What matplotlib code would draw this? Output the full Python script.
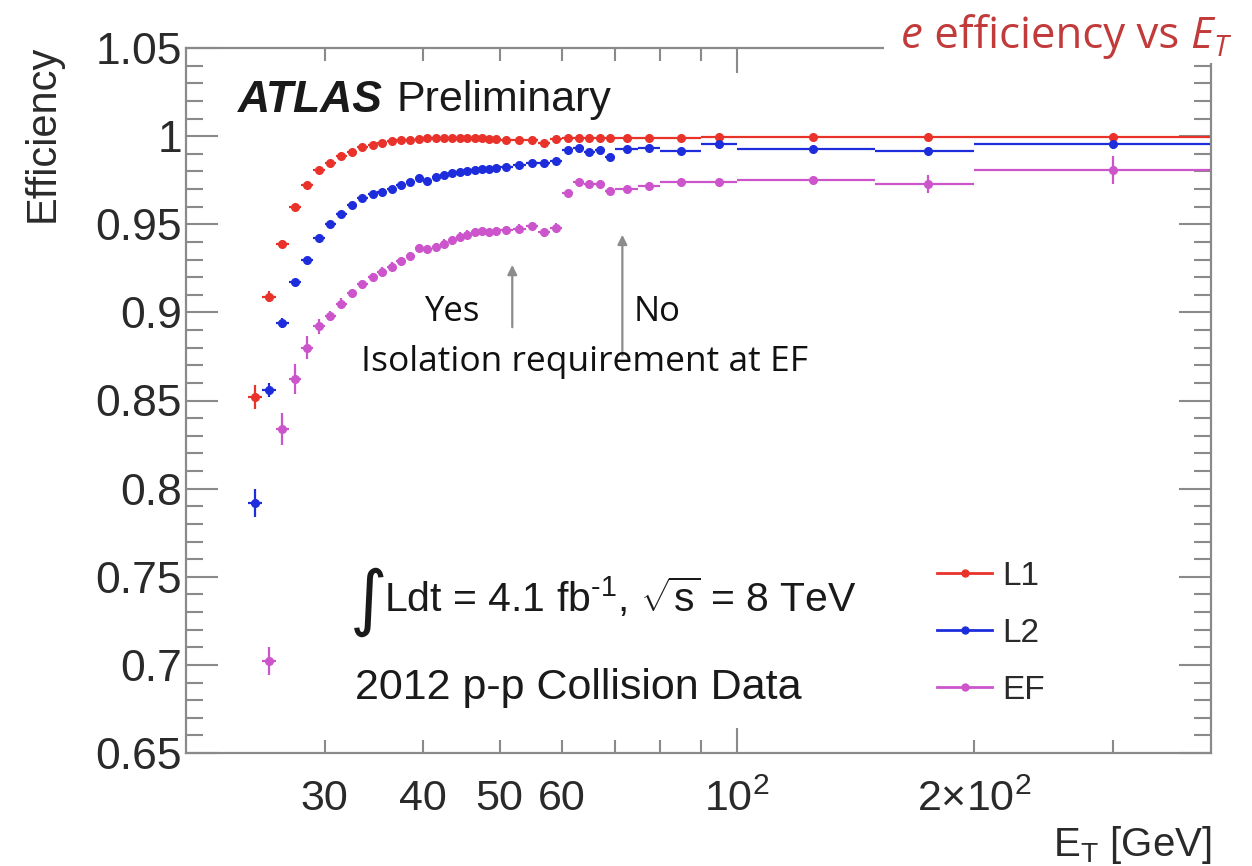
import matplotlib
matplotlib.use("Agg")
import matplotlib.pyplot as plt
from matplotlib.lines import Line2D
from matplotlib.patches import Rectangle
from matplotlib.ticker import FixedLocator, FixedFormatter, MultipleLocator, FormatStrFormatter
import numpy as np

plt.rcParams['font.family'] = ['Liberation Sans', 'DejaVu Sans']
plt.rcParams['mathtext.fontset'] = 'custom'
plt.rcParams['mathtext.rm'] = 'Liberation Sans'
plt.rcParams['mathtext.it'] = 'Liberation Sans:italic'
plt.rcParams['mathtext.bf'] = 'Liberation Sans:bold'

nan = float('nan')

# E_T bin edges [GeV]
bin_edges = [24, 25, 26, 27, 28, 29, 30, 31, 32, 33, 34, 35, 36, 37, 38, 39, 40,
             41, 42, 43, 44, 45, 46, 47, 48, 49, 50,
             52, 54, 56, 58, 60, 62, 64, 66, 68, 70,
             75, 80, 90, 100, 150, 200, 400]

# trigger efficiencies per bin
eff_l1 = [0.852, 0.909, 0.939, 0.960, 0.972, 0.981, 0.985, 0.989, 0.991, 0.994,
          0.995, 0.996, 0.997, 0.998, 0.998, 0.9985, 0.999, 0.999, 0.999, 0.999,
          0.999, 0.999, 0.9988, 0.9988, 0.9985, 0.9985,
          0.998, 0.998, 0.998, 0.9963, 0.9985, 0.999, 0.999, 0.999, 0.999, 0.999,
          0.999, 0.999, 0.999, 0.9993, 0.9995, 0.9995, 0.9995]
err_l1 = [0.007, 0.003, 0.002, 0.0015, 0.001, 0.001, 0.001, 0.001, 0.001, 0.001,
          0.001, 0.001, 0.001, 0.001, 0.001, 0.001, 0.001, 0.001, 0.001, 0.001,
          0.001, 0.001, 0.001, 0.001, 0.001, 0.001,
          0.001, 0.001, 0.001, 0.001, 0.001, 0.001, 0.001, 0.001, 0.001, 0.001,
          0.001, 0.001, 0.001, 0.001, 0.001, 0.001, 0.001]

eff_l2 = [0.792, 0.856, 0.894, 0.917, 0.930, 0.942, 0.950, 0.956, 0.961, 0.965,
          0.967, 0.9685, 0.970, 0.9725, 0.974, 0.976, 0.9745, 0.977, 0.978, 0.979,
          0.9795, 0.980, 0.981, 0.9812, 0.9815, 0.982,
          0.9825, 0.9835, 0.9845, 0.985, 0.986, 0.992, 0.993, 0.991, 0.992, 0.988,
          0.9925, 0.9935, 0.9917, 0.9955, 0.9925, 0.9915, 0.9955]
err_l2 = [0.008, 0.004, 0.003, 0.002, 0.0015, 0.0015, 0.0015, 0.0015, 0.0015, 0.0015,
          0.0015, 0.0015, 0.0015, 0.0015, 0.0015, 0.0015, 0.0015, 0.0015, 0.0015, 0.0015,
          0.0015, 0.0015, 0.0015, 0.0015, 0.0015, 0.0015,
          0.0015, 0.0015, 0.0015, 0.0015, 0.0015, 0.0015, 0.0015, 0.0015, 0.0015, 0.0015,
          0.0015, 0.0015, 0.0015, 0.0015, 0.002, 0.002, 0.003]

eff_ef = [nan, 0.702, 0.834, 0.862, 0.880, 0.892, 0.898, 0.905, 0.911, 0.916,
          0.920, 0.923, 0.926, 0.929, 0.932, 0.9365, 0.936, 0.937, 0.939, 0.941,
          0.943, 0.944, 0.9455, 0.946, 0.9455, 0.946,
          0.9465, 0.9475, 0.949, 0.9455, 0.948, 0.9675, 0.974, 0.973, 0.973, 0.969,
          0.9698, 0.9717, 0.974, 0.974, 0.975, 0.973, 0.981]
err_ef = [0.0, 0.008, 0.009, 0.0085, 0.0065, 0.004, 0.003, 0.003, 0.0025, 0.0025,
          0.0025, 0.0025, 0.0025, 0.0025, 0.0025, 0.0025, 0.0025, 0.0025, 0.0025, 0.0025,
          0.0025, 0.0025, 0.0025, 0.0025, 0.0025, 0.0025,
          0.0025, 0.0025, 0.0025, 0.0025, 0.0025, 0.002, 0.002, 0.002, 0.002, 0.002,
          0.002, 0.002, 0.002, 0.002, 0.002, 0.005, 0.008]

series_labels = ['L1', 'L2', 'EF']
series_colors = ['#e8322a', '#1e2ddc', '#cc55cc']

x_tick_minor = [30, 40, 50, 60, 70, 80, 90, 200, 300]
x_tick_minor_labels = ['30', '40', '50', '60', '', '', '', '$2\u00d710^{2}$', '']

W, H = 1252, 866
fig = plt.figure(figsize=(W / 100, H / 100), dpi=100)


def fx(px):
    return px / W


def fy(py):
    return 1 - py / H


ax = fig.add_axes([fx(186), fy(753), fx(1211) - fx(186), fy(48) - fy(753)])

edges = np.array(bin_edges, dtype=float)
lo, hi = edges[:-1], edges[1:]
centers = 0.5 * (lo + hi)
xerr = [centers - lo, hi - centers]

for eff, err, col, lab in zip([eff_l1, eff_l2, eff_ef], [err_l1, err_l2, err_ef],
                              series_colors, series_labels):
    ax.errorbar(centers, eff, xerr=xerr, yerr=err, fmt='o', ms=5.5, color=col,
                ecolor=col, elinewidth=1.6, capsize=0, mec=col, mfc=col, label=lab)

ax.set_xscale('log')
ax.set_xlim(20, 400)
ax.set_ylim(0.65, 1.05)

frame_col = '#8a8a8a'
for sp in ax.spines.values():
    sp.set_color(frame_col)
    sp.set_linewidth(1.6)

# y axis
ax.yaxis.set_major_locator(MultipleLocator(0.05))
ax.yaxis.set_minor_locator(MultipleLocator(0.01))
ax.yaxis.set_major_formatter(FormatStrFormatter('%g'))
# x axis
ax.xaxis.set_major_locator(FixedLocator([100]))
ax.xaxis.set_major_formatter(FixedFormatter(['$10^{2}$']))
ax.xaxis.set_minor_locator(FixedLocator(x_tick_minor))
ax.xaxis.set_minor_formatter(FixedFormatter(x_tick_minor_labels))

ax.tick_params(axis='both', which='both', direction='in', top=True, right=True,
               color=frame_col, width=1.5, labelcolor='#2a2a2a')
ax.tick_params(axis='y', which='major', length=23, labelsize=32, pad=3)
ax.tick_params(axis='y', which='minor', length=12)
ax.tick_params(axis='x', which='major', length=18, labelsize=31, pad=19)
ax.tick_params(axis='x', which='minor', length=9.5, labelsize=31, pad=19)

# axis titles
fig.text(fx(43), fy(45), 'Efficiency', rotation=90, ha='center', va='top',
         fontsize=30, color='#2a2a2a')
fig.text(fx(1212), fy(845), 'E$_{\\mathrm{T}}$ [GeV]', ha='right', va='center',
         fontsize=29, color='#2a2a2a')

# experiment labels
fig.text(fx(238), fy(100), 'ATLAS', fontsize=32, fontweight='bold', style='italic',
         ha='left', va='center', color='#1a1a1a')
fig.text(fx(397), fy(100), 'Preliminary', fontsize=31, ha='left', va='center',
         color='#1a1a1a')
fig.text(fx(350), fy(602), '\u222b', fontsize=52, ha='left', va='center',
         color='#1a1a1a', family=['DejaVu Sans'])
fig.text(fx(384), fy(598), 'Ldt = 4.1 fb$^{\\text{-1}}$, $\\sqrt{\\mathrm{s}}$ = 8 TeV',
         fontsize=29.5, ha='left', va='center', color='#1a1a1a')
fig.text(fx(355), fy(688), '2012 p-p Collision Data', fontsize=31, ha='left',
         va='center', color='#1a1a1a')

# legend
handles = [Line2D([], [], color=c, marker='o', ms=5, lw=2) for c in series_colors]
ax.legend(handles, series_labels, loc='upper left', bbox_to_anchor=(fx(937), fy(561)),
          bbox_transform=fig.transFigure, frameon=False, fontsize=24,
          handlelength=1.65, handletextpad=0.3, labelspacing=0.78, borderpad=0,
          borderaxespad=0, labelcolor='#2a2a2a')

# isolation annotations
note_font = ['Open Sans', 'DejaVu Sans']
arrow_col = '#8c8c8c'
ax.annotate('', xy=(51.9, 0.9285), xytext=(51.9, 0.890),
            arrowprops=dict(arrowstyle='-|>', color=arrow_col, lw=1.6, mutation_scale=14))
ax.annotate('', xy=(71.6, 0.9456), xytext=(71.6, 0.874),
            arrowprops=dict(arrowstyle='-|>', color=arrow_col, lw=1.6, mutation_scale=14))
fig.text(fx(424), fy(312), 'Yes', family=note_font, fontsize=25, ha='left',
         va='center', color='#111111')
fig.text(fx(634), fy(312), 'No', family=note_font, fontsize=25, ha='left',
         va='center', color='#111111')
fig.text(fx(361), fy(362), 'Isolation requirement at EF', family=note_font,
         fontsize=25.5, ha='left', va='center', color='#111111')

# title box in the top right corner
fig.patches.append(Rectangle((fx(884), fy(63)), 1 - fx(884), fy(0) - fy(63),
                             transform=fig.transFigure, facecolor='white',
                             edgecolor='none', zorder=5))
title_col = '#c23b3b'
renderer = fig.canvas.get_renderer()
x = fx(901)
yb = fy(48)
pieces = [('e', dict(style='italic', fontsize=31.5)),
          (' efficiency vs ', dict(fontsize=31.5)),
          ('E', dict(style='italic', fontsize=31.5))]
for s, kw in pieces:
    t = fig.text(x, yb, s, family=note_font, color=title_col, ha='left',
                 va='baseline', zorder=6, **kw)
    x = t.get_window_extent(renderer).x1 / W
fig.text(x, yb - 8 / H, 'T', family=note_font, color=title_col, ha='left',
         va='baseline', zorder=6, style='italic', fontsize=21)

fig.savefig('out.png', dpi=100, facecolor='white')
